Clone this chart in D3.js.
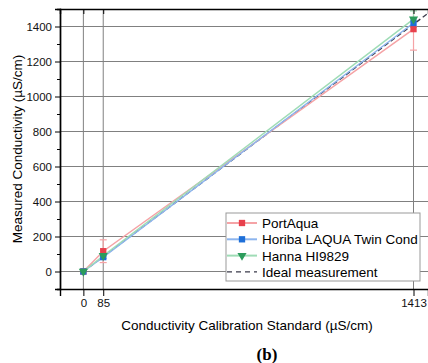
<!DOCTYPE html>
<html>
<head>
<meta charset="utf-8">
<script src="https://cdn.jsdelivr.net/npm/d3@7/dist/d3.min.js"></script>
<style>
    body { margin: 0; background: #fff; }
    svg { display: block; font-family: "Liberation Sans", Arial, sans-serif; }
</style>
</head>
<body>
<div id="chart"></div>
<script>
// calibration standards (µS/cm)
const standards = [0, 85, 1413];
const xTickLabels = ["0", "85", "1413"];
const yTickValues = [0, 200, 400, 600, 800, 1000, 1200, 1400];

const portAqua = [0, 116, 1385];
const portAquaErr = [0, 65, 120];
const horiba = [0, 82, 1420];
const horibaErr = [0, 8, 22];
const hanna = [0, 90, 1442];
const hannaErr = [0, 6, 47];

const seriesNames = ["PortAqua", "Horiba LAQUA Twin Cond", "Hanna HI9829", "Ideal measurement"];
const idealLine = [0, 1475];

const W = 428, H = 363;
const margin = { top: 9, right: 0, bottom: 74, left: 60 };
const width = W - margin.left - margin.right;
const height = H - margin.top - margin.bottom;

const svg = d3.select("#chart").append("svg")
    .attr("width", W)
    .attr("height", H);

svg.append("defs").append("clipPath")
    .attr("id", "clip")
    .append("rect")
    .attr("width", width)
    .attr("height", height);

const g = svg.append("g")
    .attr("transform", `translate(${margin.left},${margin.top})`);

const x = d3.scaleLinear().domain([-100, 1475]).range([0, width]);
const y = d3.scaleLinear().domain([-100, 1500]).range([height, 0]);

// grid
g.append("g").selectAll("line")
    .data(yTickValues)
    .enter().append("line")
    .attr("x1", 0).attr("x2", width)
    .attr("y1", d => y(d)).attr("y2", d => y(d))
    .style("stroke", "#808080").style("stroke-width", 1);

g.append("g").selectAll("line")
    .data(standards)
    .enter().append("line")
    .attr("x1", d => x(d)).attr("x2", d => x(d))
    .attr("y1", 0).attr("y2", height)
    .style("stroke", "#808080").style("stroke-width", 1);

const plot = g.append("g").attr("clip-path", "url(#clip)");

// ideal y = x
plot.append("line")
    .attr("x1", x(idealLine[0])).attr("y1", y(idealLine[0]))
    .attr("x2", x(idealLine[1])).attr("y2", y(idealLine[1]))
    .style("stroke", "#3a3a4a")
    .style("stroke-width", 1.3)
    .style("stroke-dasharray", "5,3");

const series = [
    { name: seriesNames[0], values: portAqua, err: portAquaErr, line: "#f5a3a6", marker: "#e8404c", shape: "square" },
    { name: seriesNames[1], values: horiba, err: horibaErr, line: "#8db5ee", marker: "#1e6fd8", shape: "square" },
    { name: seriesNames[2], values: hanna, err: hannaErr, line: "#9fdcb6", marker: "#2c9c5c", shape: "triangle" }
];

const line = d3.line()
    .x((d, i) => x(standards[i]))
    .y(d => y(d));

series.forEach(s => {
    plot.append("path")
        .datum(s.values)
        .attr("d", line)
        .style("fill", "none")
        .style("stroke", s.line)
        .style("stroke-width", 1.5);
});

// error bars
series.forEach(s => {
    const eb = plot.append("g").style("stroke", s.line).style("stroke-width", 1.2);
    s.values.forEach((v, i) => {
        if (!s.err[i]) return;
        const cx = x(standards[i]);
        eb.append("line")
            .attr("x1", cx).attr("x2", cx)
            .attr("y1", y(v - s.err[i])).attr("y2", y(v + s.err[i]));
        [v - s.err[i], v + s.err[i]].forEach(e => {
            eb.append("line")
                .attr("x1", cx - 3.5).attr("x2", cx + 3.5)
                .attr("y1", y(e)).attr("y2", y(e));
        });
    });
});

// markers
const square = d3.symbol().type(d3.symbolSquare).size(40);
const triangle = d3.symbol().type(d3.symbolTriangle).size(36);

series.forEach(s => {
    plot.append("g").selectAll("path")
        .data(s.values)
        .enter().append("path")
        .attr("d", s.shape === "square" ? square : triangle)
        .attr("transform", (d, i) => `translate(${x(standards[i])},${y(d)})${s.shape === "triangle" ? " rotate(180)" : ""}`)
        .style("fill", s.marker);
});

// axes
const yAxis = g.append("g")
    .call(d3.axisLeft(y).tickValues(yTickValues).tickFormat(d3.format("d")).tickSize(5).tickPadding(3));
g.append("g")
    .call(d3.axisLeft(y).tickValues(d3.range(-100, 1500, 200)).tickSize(3).tickFormat(""));

const xAxis = g.append("g")
    .attr("transform", `translate(0,${height})`)
    .call(d3.axisBottom(x).tickValues(standards).tickFormat((d, i) => xTickLabels[i]).tickSize(7).tickPadding(3));

g.append("g")
    .call(d3.axisTop(x).tickValues(standards).tickSize(-5).tickFormat(""));

[yAxis, xAxis].forEach(a => {
    a.selectAll("text").style("font-size", "11.5px").style("fill", "#111")
        .style("font-family", "Liberation Sans, Arial, sans-serif");
});
g.selectAll(".domain").style("stroke", "#000").style("stroke-width", 1.4);
g.selectAll(".tick line").style("stroke", "#000");

// axis titles
svg.append("text")
    .attr("x", 247).attr("y", 330)
    .attr("text-anchor", "middle")
    .style("font-size", "13.5px")
    .text("Conductivity Calibration Standard (µS/cm)");

svg.append("text")
    .attr("transform", `translate(22,${margin.top + height / 2}) rotate(-90)`)
    .attr("text-anchor", "middle")
    .style("font-size", "13.5px")
    .text("Measured Conductivity (µS/cm)");

svg.append("text")
    .attr("x", 267).attr("y", 360)
    .attr("text-anchor", "middle")
    .style("font-family", "Liberation Serif, 'Times New Roman', serif")
    .style("font-weight", "bold")
    .style("font-size", "17px")
    .text("(b)");

// legend
const legend = svg.append("g").attr("transform", "translate(226,213)");
legend.append("rect")
    .attr("width", 194).attr("height", 68)
    .style("fill", "#fff")
    .style("stroke", "#999");

const legendItems = series.concat([{ name: seriesNames[3], ideal: true }]);
legendItems.forEach((s, i) => {
    const row = legend.append("g").attr("transform", `translate(0,${10 + i * 16.3})`);
    if (s.ideal) {
        row.append("line")
            .attr("x1", 1).attr("x2", 31)
            .style("stroke", "#3a3a4a").style("stroke-width", 1.3)
            .style("stroke-dasharray", "5,4");
    } else {
        row.append("line")
            .attr("x1", 1).attr("x2", 31)
            .style("stroke", s.line).style("stroke-width", 2);
        row.append("path")
            .attr("d", s.shape === "square" ? square : triangle)
            .attr("transform", `translate(16,0)${s.shape === "triangle" ? " rotate(180)" : ""}`)
            .style("fill", s.marker);
    }
    row.append("text")
        .attr("x", 36).attr("y", 5)
        .style("font-size", "13.5px")
        .text(s.name);
});
</script>
</body>
</html>
